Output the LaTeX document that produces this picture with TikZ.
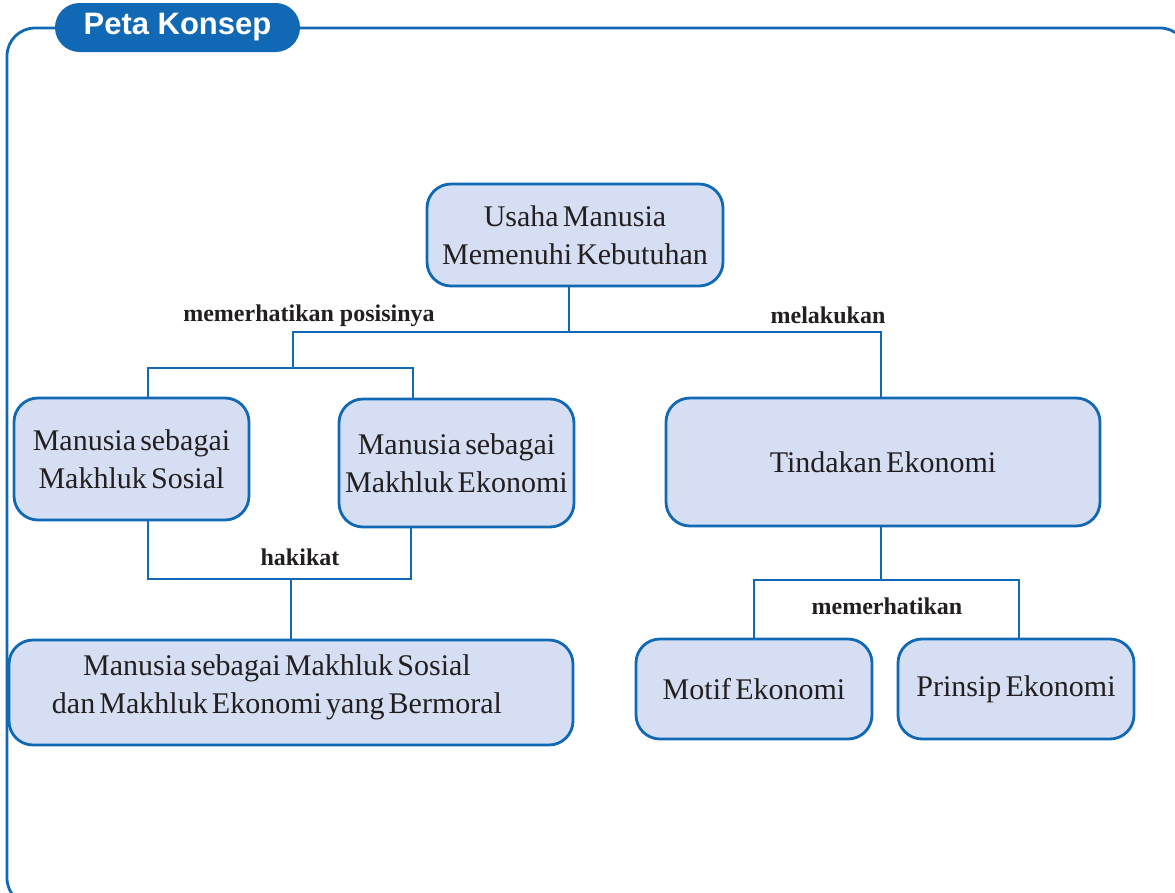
\documentclass[tikz,border=0pt]{standalone}
\usepackage{fontspec}
\setmainfont{Liberation Serif}
\newfontfamily\tabfont{Liberation Sans}
\definecolor{kblue}{HTML}{1169B5}
\definecolor{kfill}{HTML}{D5DEF2}
\definecolor{ktext}{HTML}{231F20}
\protected\def\ktight{\fontsize{30}{38}\selectfont\spaceskip=0.14em\relax}
\begin{document}
\begin{tikzpicture}[x=1pt,y=-1pt,
  concept/.style={draw=kblue, line width=2.8pt, fill=kfill, rounded corners=24pt,
    inner sep=0pt, align=center, text=ktext, font=\ktight},
  link/.style={draw=kblue, line width=2.8pt},
  lbl/.style={text=ktext, inner sep=0pt, font=\fontsize{24}{28}\selectfont\bfseries}]
\useasboundingbox (0,0) rectangle (1175,892);
\begin{scope}
\clip (0,0) rectangle (1175,892);
\draw[kblue, line width=2.8pt, rounded corners=28pt] (7,28) rectangle (1188,906);
\end{scope}
\node[fill=kblue, rounded corners=24.5pt, minimum width=245pt, minimum height=49pt, inner sep=0pt,
  text=white, font=\tabfont\fontsize{31}{34}\selectfont\bfseries] (tab) at (177.5,27.5) {Peta Konsep};

\node[concept, minimum width=296pt, minimum height=102pt] (usaha) at (575,235)
  {Usaha Manusia\\Memenuhi Kebutuhan};
\node[concept, minimum width=235pt, minimum height=122pt] (sosial) at (131.5,459)
  {Manusia sebagai\\Makhluk Sosial};
\node[concept, minimum width=235pt, minimum height=128pt] (ekonomi) at (456.5,463)
  {Manusia sebagai\\Makhluk Ekonomi};
\node[concept, minimum width=434pt, minimum height=128pt] (tindakan) at (883,462)
  {Tindakan Ekonomi};
\node[concept, minimum width=564pt, minimum height=105pt] (moral) at (291,692.5) {};
\node[inner sep=0pt, align=center, text=ktext, font=\ktight] (moraltxt) at (277,687)
  {Manusia sebagai Makhluk Sosial\\dan Makhluk Ekonomi yang Bermoral};
\node[concept, minimum width=236pt, minimum height=100pt] (motif) at (754,689)
  {Motif Ekonomi};
\node[concept, minimum width=236pt, minimum height=100pt] (prinsip) at (1016,689)
  {Prinsip Ekonomi};

\coordinate (ja) at (569,332);
\coordinate (jl) at (293,332);
\coordinate (jr) at (881,332);
\coordinate (jl2) at (293,368);
\coordinate (jsos) at (148,368);
\coordinate (jeko) at (413,368);
\coordinate (hb1) at (148,579);
\coordinate (hb2) at (411,579);
\coordinate (hm) at (291,579);
\coordinate (tb) at (881,580);
\coordinate (tm) at (754,580);
\coordinate (tp) at (1019,580);

\draw[link] (usaha.south -| ja) -- (ja);
\draw[link] (jl2) -- (jl) -- (jr) -- (tindakan.north -| jr);
\draw[link] (sosial.north -| jsos) -- (jsos) -- (jeko) -- (ekonomi.north -| jeko);
\draw[link] (sosial.south -| hb1) -- (hb1) -- (hb2) -- (ekonomi.south -| hb2);
\draw[link] (hm) -- (moral.north -| hm);
\draw[link] (tindakan.south -| tb) -- (tb);
\draw[link] (motif.north -| tm) -- (tm) -- (tp) -- (prinsip.north -| tp);

\node[lbl] (l1) at (309,316) {memerhatikan posisinya};
\node[lbl] (l2) at (828,315) {melakukan};
\node[lbl] (l3) at (300,557) {hakikat};
\node[lbl] (l4) at (887,606) {memerhatikan};
\end{tikzpicture}
\end{document}
